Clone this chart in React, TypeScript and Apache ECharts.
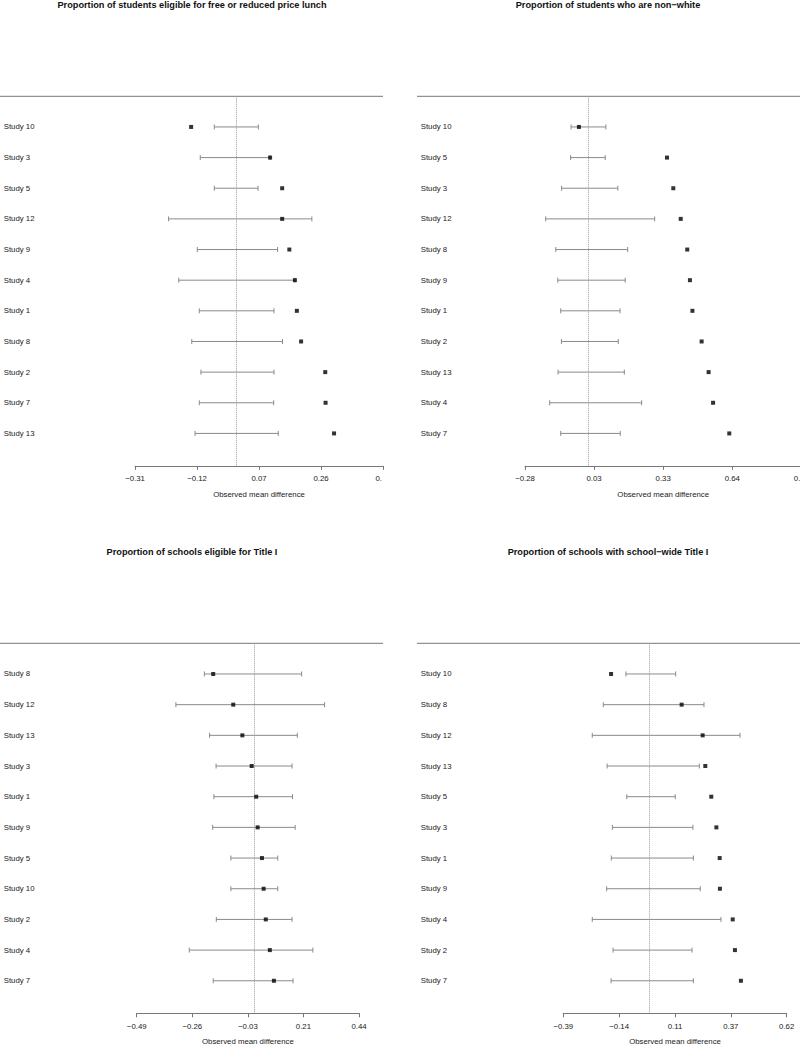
import React, { useEffect, useRef } from 'react';
import * as echarts from 'echarts';

const FONT = '"Liberation Sans", Arial, Helvetica, sans-serif';

const titles = [
  'Proportion of students eligible for free or reduced price lunch',
  'Proportion of students who are non\u2212white',
  'Proportion of schools eligible for Title I',
  'Proportion of schools with school\u2212wide Title I',
];
const axisName = 'Observed mean difference';
const nullValue = 0;

// Panel 1
const studies1 = ['Study 10', 'Study 3', 'Study 5', 'Study 12', 'Study 9', 'Study 4', 'Study 1', 'Study 8', 'Study 2', 'Study 7', 'Study 13'];
const est1 = [-0.138, 0.104, 0.141, 0.141, 0.163, 0.18, 0.186, 0.199, 0.273, 0.274, 0.3];
const lo1 = [-0.067, -0.11, -0.067, -0.207, -0.119, -0.176, -0.113, -0.136, -0.108, -0.113, -0.126];
const hi1 = [0.068, 0.104, 0.067, 0.232, 0.127, 0.18, 0.116, 0.142, 0.116, 0.115, 0.129];
const ticks1 = [-0.31, -0.12, 0.07, 0.26, 0.45];
const tickLabels1 = ['\u22120.31', '\u22120.12', '0.07', '0.26', '0.45'];

// Panel 2
const studies2 = ['Study 10', 'Study 5', 'Study 3', 'Study 12', 'Study 8', 'Study 9', 'Study 1', 'Study 2', 'Study 13', 'Study 4', 'Study 7'];
const est2 = [-0.04, 0.352, 0.38, 0.413, 0.442, 0.454, 0.465, 0.506, 0.537, 0.557, 0.629];
const lo2 = [-0.075, -0.077, -0.117, -0.188, -0.143, -0.134, -0.121, -0.118, -0.133, -0.17, -0.121];
const hi2 = [0.08, 0.077, 0.133, 0.297, 0.177, 0.166, 0.143, 0.135, 0.162, 0.239, 0.144];
const ticks2 = [-0.28, 0.0275, 0.335, 0.6425, 0.95];
const tickLabels2 = ['\u22120.28', '0.03', '0.33', '0.64', '0.95'];

// Panel 3
const studies3 = ['Study 8', 'Study 12', 'Study 13', 'Study 3', 'Study 1', 'Study 9', 'Study 5', 'Study 10', 'Study 2', 'Study 4', 'Study 7'];
const est3 = [-0.17, -0.086, -0.048, -0.009, 0.01, 0.016, 0.034, 0.041, 0.05, 0.067, 0.084];
const lo3 = [-0.207, -0.326, -0.185, -0.158, -0.167, -0.172, -0.096, -0.096, -0.157, -0.27, -0.17];
const hi3 = [0.2, 0.296, 0.182, 0.16, 0.162, 0.173, 0.1, 0.1, 0.16, 0.247, 0.164];
const ticks3 = [-0.49, -0.2575, -0.025, 0.2075, 0.44];
const tickLabels3 = ['\u22120.49', '\u22120.26', '\u22120.03', '0.21', '0.44'];

// Panel 4
const studies4 = ['Study 10', 'Study 8', 'Study 12', 'Study 13', 'Study 5', 'Study 3', 'Study 1', 'Study 9', 'Study 4', 'Study 2', 'Study 7'];
const est4 = [-0.174, 0.145, 0.24, 0.252, 0.279, 0.302, 0.317, 0.318, 0.376, 0.386, 0.413];
const lo4 = [-0.107, -0.209, -0.259, -0.192, -0.103, -0.168, -0.173, -0.194, -0.259, -0.165, -0.174];
const hi4 = [0.118, 0.246, 0.409, 0.225, 0.116, 0.196, 0.198, 0.229, 0.323, 0.192, 0.198];
const ticks4 = [-0.39, -0.1375, 0.115, 0.3675, 0.62];
const tickLabels4 = ['\u22120.39', '\u22120.14', '0.11', '0.37', '0.62'];

const panelData = [
  { studies: studies1, est: est1, lo: lo1, hi: hi1, ticks: ticks1, tickLabels: tickLabels1 },
  { studies: studies2, est: est2, lo: lo2, hi: hi2, ticks: ticks2, tickLabels: tickLabels2 },
  { studies: studies3, est: est3, lo: lo3, hi: hi3, ticks: ticks3, tickLabels: tickLabels3 },
  { studies: studies4, est: est4, lo: lo4, hi: hi4, ticks: ticks4, tickLabels: tickLabels4 },
];

// layout (pixels)
const layout = [
  { left: 135, width: 248, top: 96.3, height: 369.6, labelX: 3.7, titleX: 192, titleY: 5, lineX1: 0, lineX2: 383 },
  { left: 525, width: 276.4, top: 96.3, height: 369.6, labelX: 420.7, titleX: 608, titleY: 5, lineX1: 417, lineX2: 800 },
  { left: 136.7, width: 222.3, top: 643.3, height: 370, labelX: 3.7, titleX: 192, titleY: 552, lineX1: 0, lineX2: 383 },
  { left: 563.3, width: 223.4, top: 643.3, height: 370, labelX: 420.7, titleX: 608, titleY: 552, lineX1: 417, lineX2: 800 },
];

const ROW_MAX = 12.06;
const GRAY_AXIS = '#777';
const GRAY_BAR = '#8a8a8a';
const TEXT = '#1a1a1a';

export default function App() {
  const ref = useRef<HTMLDivElement>(null);
  useEffect(() => {
    if (!ref.current) return;
    const chart = echarts.init(ref.current, undefined, { renderer: 'svg' });

    const grid: any[] = [];
    const xAxis: any[] = [];
    const yAxis: any[] = [];
    const series: any[] = [];
    const graphic: any[] = [];

    panelData.forEach((p, k) => {
      const L = layout[k];
      grid.push({
        left: L.left,
        top: L.top,
        width: L.width,
        height: L.height,
        containLabel: false,
        outerBoundsMode: 'none',
      });
      xAxis.push({
        type: 'value',
        gridIndex: k,
        position: 'bottom',
        min: p.ticks[0],
        max: p.ticks[p.ticks.length - 1],
        splitLine: { show: false },
        axisLine: { show: true, onZero: false, lineStyle: { color: GRAY_AXIS, width: 1 } },
        axisTick: { show: true, length: 4, customValues: p.ticks, lineStyle: { color: GRAY_AXIS, width: 1 } },
        axisLabel: {
          show: true,
          customValues: p.ticks,
          margin: 9,
          fontSize: 7.8,
          fontFamily: FONT,
          color: TEXT,
          formatter: (v: number) => {
            const i = p.ticks.findIndex((t) => Math.abs(t - v) < 1e-6);
            return i >= 0 ? p.tickLabels[i] : '';
          },
        },
        name: axisName,
        nameLocation: 'middle',
        nameGap: 24.5,
        nameTextStyle: { fontSize: 7.8, fontFamily: FONT, color: TEXT },
      });
      yAxis.push({
        type: 'value',
        gridIndex: k,
        min: 0,
        max: ROW_MAX,
        interval: 1,
        inverse: true,
        splitLine: { show: false },
        axisLine: { show: false, onZero: false },
        axisTick: { show: false },
        axisLabel: {
          show: true,
          align: 'left',
          margin: L.left - L.labelX,
          fontSize: 7.8,
          fontFamily: FONT,
          color: TEXT,
          showMinLabel: false,
          showMaxLabel: false,
          formatter: (v: number) => {
            const r = Math.round(v);
            if (Math.abs(r - v) > 1e-6 || r < 1 || r > p.studies.length) return '';
            return p.studies[r - 1];
          },
        },
      });
      series.push({
        type: 'custom',
        xAxisIndex: k,
        yAxisIndex: k,
        z: 2,
        encode: { x: [0, 1], y: 2 },
        data: p.studies.map((_, i) => [p.lo[i], p.hi[i], i + 1]),
        renderItem: (params: any, api: any) => {
          const y = api.value(2);
          const a = api.coord([api.value(0), y]);
          const b = api.coord([api.value(1), y]);
          const h = 2.5;
          const st = { stroke: GRAY_BAR, lineWidth: 1, fill: null };
          return {
            type: 'group',
            children: [
              { type: 'line', shape: { x1: a[0], y1: a[1], x2: b[0], y2: b[1] }, style: st },
              { type: 'line', shape: { x1: a[0], y1: a[1] - h, x2: a[0], y2: a[1] + h }, style: st },
              { type: 'line', shape: { x1: b[0], y1: b[1] - h, x2: b[0], y2: b[1] + h }, style: st },
            ],
          };
        },
        markLine: {
          silent: true,
          symbol: 'none',
          label: { show: false },
          lineStyle: { type: 'dotted', color: '#9a9a9a', width: 1 },
          data: [{ xAxis: nullValue }],
        },
      });
      series.push({
        type: 'scatter',
        xAxisIndex: k,
        yAxisIndex: k,
        z: 5,
        symbol: 'rect',
        symbolSize: 4,
        itemStyle: { color: '#000' },
        data: p.studies.map((_, i) => [p.est[i], i + 1]),
      });
      graphic.push({
        type: 'line',
        silent: true,
        shape: { x1: L.lineX1, y1: L.top, x2: L.lineX2, y2: L.top },
        style: { stroke: GRAY_AXIS, lineWidth: 1 },
      });
      graphic.push({
        type: 'text',
        silent: true,
        x: L.titleX,
        y: L.titleY,
        style: {
          text: titles[k],
          align: 'center',
          verticalAlign: 'middle',
          fontSize: 9.2,
          fontWeight: 'bold',
          fontFamily: FONT,
          fill: '#111',
        },
      });
    });

    // clip of the first panel's right edge (as in the reference)
    graphic.push({
      type: 'rect',
      silent: true,
      z: 100,
      shape: { x: 382, y: 472, width: 30, height: 16 },
      style: { fill: '#fff' },
    });

    chart.setOption({
      animation: false,
      backgroundColor: '#fff',
      grid,
      xAxis,
      yAxis,
      series,
      graphic,
    });
    return () => chart.dispose();
  }, []);
  return <div ref={ref} style={{ position: 'absolute', left: 0, top: 0, width: 800, height: 1045 }} />;
}
